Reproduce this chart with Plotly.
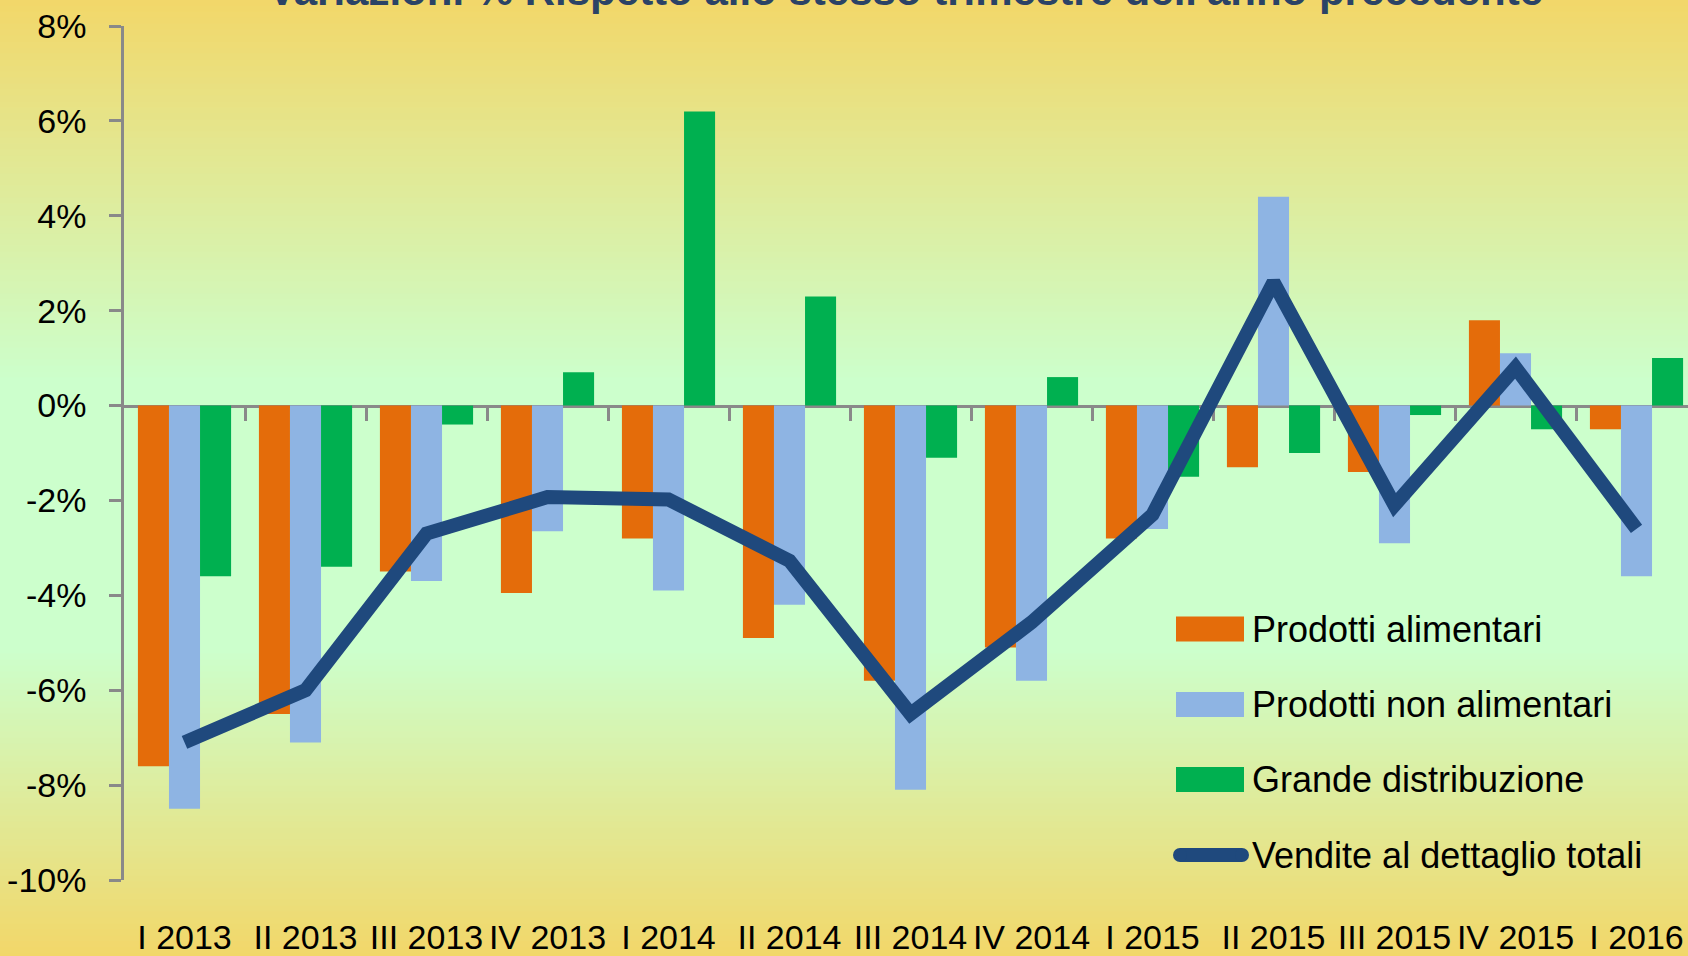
import plotly.graph_objects as go

categories = ["I 2013", "II 2013", "III 2013", "IV 2013", "I 2014", "II 2014", "III 2014",
              "IV 2014", "I 2015", "II 2015", "III 2015", "IV 2015", "I 2016"]
alimentari = [-7.6, -6.5, -3.5, -3.95, -2.8, -4.9, -5.8, -5.1, -2.8, -1.3, -1.4, 1.8, -0.5]
non_alimentari = [-8.5, -7.1, -3.7, -2.65, -3.9, -4.2, -8.1, -5.8, -2.6, 4.4, -2.9, 1.1, -3.6]
grande_distr = [-3.6, -3.4, -0.4, 0.7, 6.2, 2.3, -1.1, 0.6, -1.5, -1.0, -0.2, -0.5, 1.0]
totali = [-7.1, -6.0, -2.7, -1.93, -1.98, -3.27, -6.5, -4.57, -2.3, 2.6, -2.1, 0.8, -2.6]

y_tickvals = [8, 6, 4, 2, 0, -2, -4, -6, -8, -10]
y_ticktext = ["8%", "6%", "4%", "2%", "0%", "-2%", "-4%", "-6%", "-8%", "-10%"]

series_names = ["Prodotti alimentari", "Prodotti non alimentari", "Grande distribuzione",
                "Vendite al dettaglio totali"]
title_text = "Variazioni % Rispetto allo stesso trimestre dell'anno precedente"

C_ORANGE = "#E46C0A"
C_BLUE = "#8EB4E3"
C_GREEN = "#00B050"
C_LINE = "#1F497D"
C_AXIS = "#898989"
FONT = "Liberation Sans, Arial, sans-serif"

W, H = 1688, 956
ML, MR, MT, MB = 124, 0, 26, 76
PW, PH = W - ML - MR, H - MT - MB

def px2x(px):
    return (px - ML) / PW

def px2y(py):
    return (H - MB - py) / PH

x = list(range(len(categories)))

fig = go.Figure()
for name, vals, col in [(series_names[0], alimentari, C_ORANGE),
                        (series_names[1], non_alimentari, C_BLUE),
                        (series_names[2], grande_distr, C_GREEN)]:
    fig.add_trace(go.Bar(x=x, y=vals, name=name, marker=dict(color=col, line=dict(width=0)),
                         showlegend=False))
fig.add_trace(go.Scatter(x=x, y=totali, name=series_names[3], mode="lines",
                         line=dict(color=C_LINE, width=14), showlegend=False))
# helper trace so the zero-line axis with boundary ticks is drawn
fig.add_trace(go.Scatter(x=[None], y=[None], xaxis="x2", showlegend=False, hoverinfo="skip"))

# background gradient (yellow - light green - yellow)
stops = [(0.0, (242, 215, 105)), (0.40, (204, 255, 204)), (0.68, (204, 255, 204)), (1.0, (242, 215, 105))]

def grad(f):
    for (f0, c0), (f1, c1) in zip(stops[:-1], stops[1:]):
        if f0 <= f <= f1:
            t = (f - f0) / (f1 - f0) if f1 > f0 else 0
            return tuple(round(a + (b - a) * t) for a, b in zip(c0, c1))
    return stops[-1][1]

shapes = []
step = 6
for py in range(0, H, step):
    c = grad((py + step / 2) / H)
    shapes.append(dict(type="rect", xref="paper", yref="paper",
                       x0=px2x(-2), x1=px2x(W + 2), y0=px2y(py + step + 0.5), y1=px2y(py - 0.5),
                       fillcolor="rgb(%d,%d,%d)" % c, line=dict(width=0), layer="below"))

# legend (drawn as swatches + text)
rows = [629, 704.5, 779.5, 855]
legend_cols = [C_ORANGE, C_BLUE, C_GREEN]
annotations = []
for i, yc in enumerate(rows):
    if i < 3:
        shapes.append(dict(type="rect", xref="paper", yref="paper",
                           x0=px2x(1176), x1=px2x(1244), y0=px2y(yc + 12.5), y1=px2y(yc - 12.5),
                           fillcolor=legend_cols[i], line=dict(width=0), layer="above"))
    else:
        shapes.append(dict(type="line", xref="paper", yref="paper",
                           x0=px2x(1180), x1=px2x(1242), y0=px2y(yc), y1=px2y(yc),
                           line=dict(color=C_LINE, width=14), layer="above"))
        for xe in (1180, 1242):
            shapes.append(dict(type="circle", xref="paper", yref="paper",
                               x0=px2x(xe - 7), x1=px2x(xe + 7), y0=px2y(yc + 7), y1=px2y(yc - 7),
                               fillcolor=C_LINE, line=dict(width=0), layer="above"))
    annotations.append(dict(text=series_names[i], xref="paper", yref="paper",
                            x=px2x(1250), y=px2y(yc), xanchor="left", yanchor="middle",
                            showarrow=False, font=dict(family=FONT, size=36, color="#000000")))

annotations.append(dict(text="<b>" + title_text + "</b>", xref="paper", yref="paper",
                        x=px2x(905), y=px2y(16), xanchor="center", yanchor="bottom",
                        showarrow=False, font=dict(family=FONT, size=42, color="#2B4366")))

fig.update_layout(
    width=W, height=H, autosize=False,
    margin=dict(l=ML, r=MR, t=MT, b=MB, pad=0, autoexpand=False),
    paper_bgcolor="rgb(242,215,105)", plot_bgcolor="rgba(0,0,0,0)",
    barmode="group", bargap=0.23, bargroupgap=0,
    font=dict(family=FONT, size=34, color="#000000"),
    showlegend=False,
    xaxis=dict(range=[-0.5, -0.5 + PW / 121.0], tickmode="array", tickvals=x, ticktext=categories,
               showline=False, ticks="", showgrid=False, zeroline=False, tickangle=0,
               automargin=False,
               ticklabelstandoff=34, tickfont=dict(family=FONT, size=34, color="#000000"),
               fixedrange=True),
    xaxis2=dict(overlaying="x", anchor="free", position=(0 - (-10)) / 18.0,
                range=[-0.5, -0.5 + PW / 121.0], tickmode="array",
                tickvals=[i + 0.5 for i in range(len(categories))],
                ticks="outside", ticklen=13, tickwidth=2.5, tickcolor=C_AXIS,
                showticklabels=False, showline=True, linecolor=C_AXIS, linewidth=3,
                showgrid=False, zeroline=False, layer="below traces", automargin=False),
    yaxis=dict(range=[-10, 8], tickmode="array", tickvals=y_tickvals, ticktext=y_ticktext,
               showline=True, linecolor=C_AXIS, linewidth=2.5, ticks="outside", ticklen=12,
               tickwidth=2.5, tickcolor=C_AXIS, showgrid=False, zeroline=False, automargin=False,
               ticklabelstandoff=16, tickfont=dict(family=FONT, size=34, color="#000000")),
    shapes=shapes,
    annotations=annotations,
)

fig.write_html("out.html", config={"displayModeBar": False},
               post_script="document.body.style.margin='0';document.body.style.overflow='hidden';")
